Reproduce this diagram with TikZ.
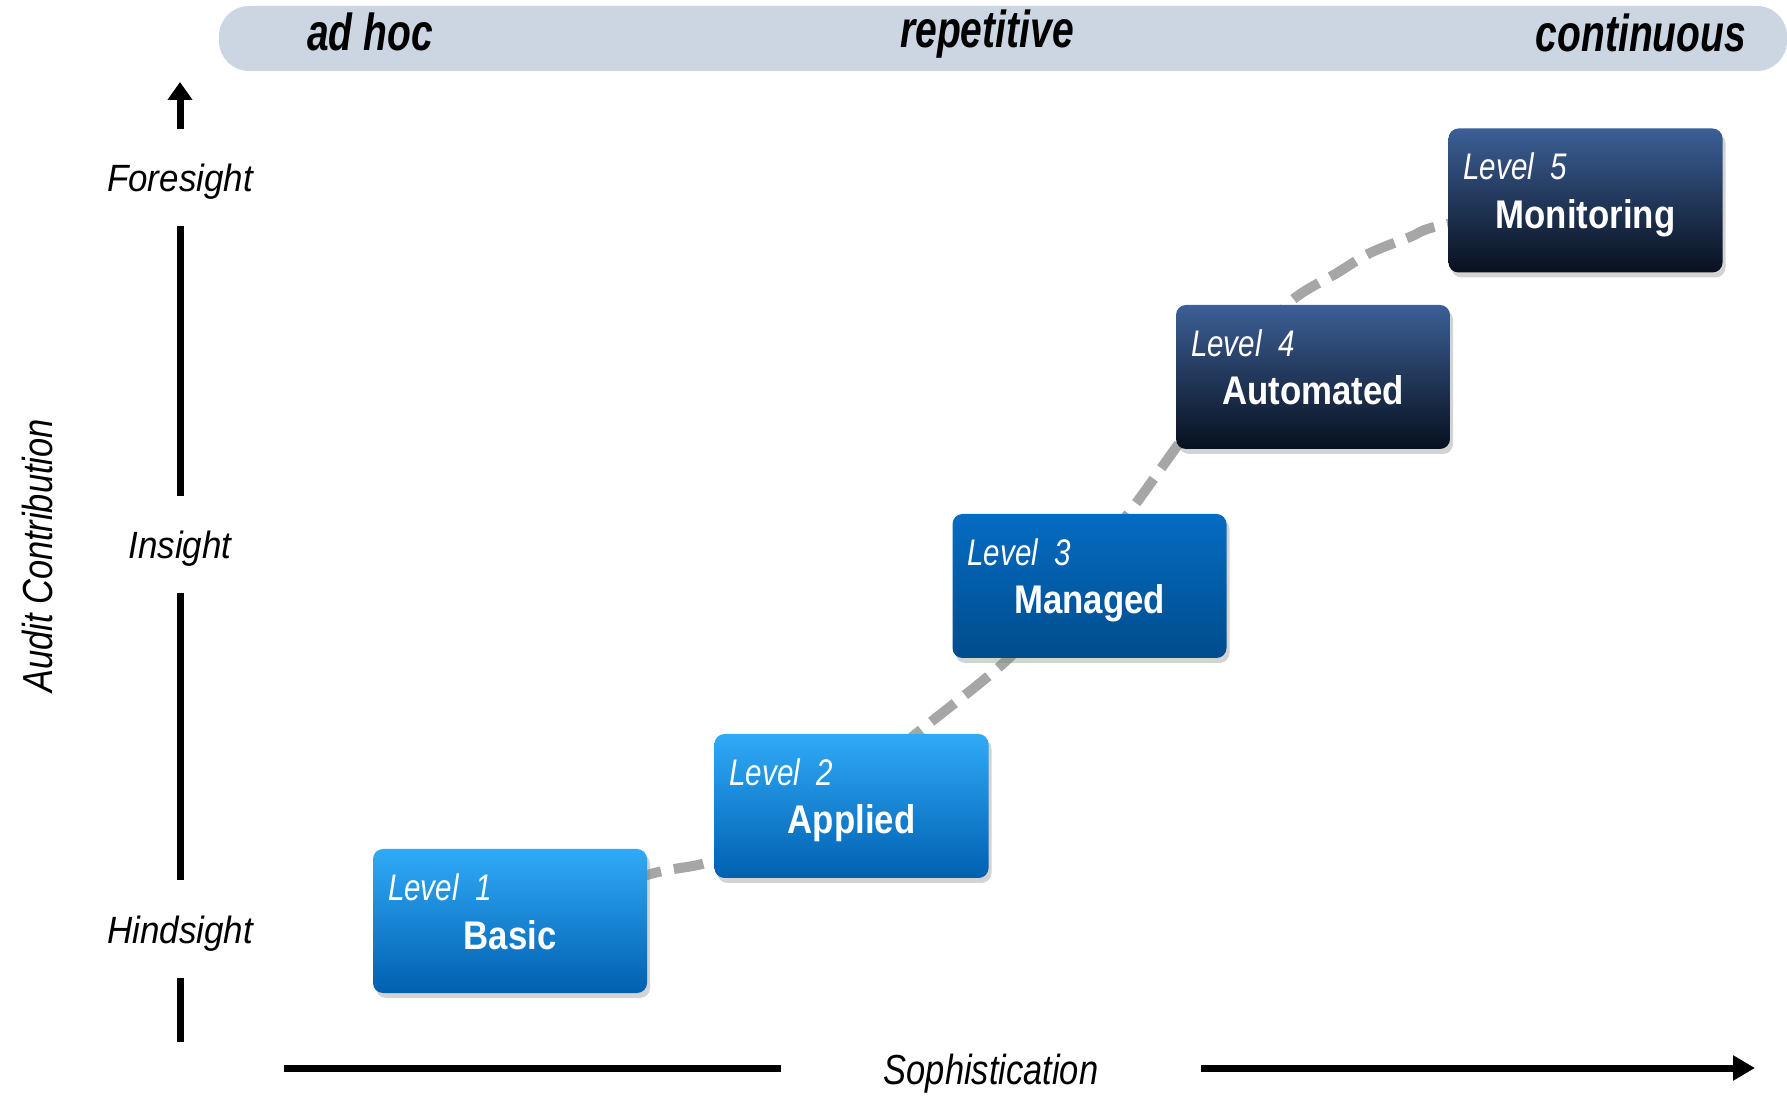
\documentclass[tikz,border=0pt]{standalone}
\usepackage{fontspec}
\setmainfont{Liberation Sans}
\newfontfamily\bannerfont[FakeStretch=0.75]{Liberation Sans}
\newfontfamily\lvlfont[FakeStretch=0.8]{Liberation Sans}
\newfontfamily\titlefont[FakeStretch=0.87]{Liberation Sans}
\newfontfamily\axisfont[FakeStretch=0.82]{Liberation Sans}
\newfontfamily\ylabfont[FakeStretch=0.92]{Liberation Sans}
\usetikzlibrary{shadows,arrows.meta,calc,backgrounds}
\definecolor{bannerc}{RGB}{204,214,226}
\definecolor{linkgray}{RGB}{166,166,166}
\definecolor{lbTop}{RGB}{48,170,247}
\definecolor{lbBot}{RGB}{0,96,176}
\definecolor{mbTop}{RGB}{5,108,195}
\definecolor{mbBot}{RGB}{0,76,140}
\definecolor{dbTop}{RGB}{60,95,150}
\definecolor{dbBot}{RGB}{8,16,30}
\tikzset{
  box/.style={rounded corners=10pt, minimum width=274pt, minimum height=144pt, inner sep=0pt,
    drop shadow={shadow xshift=3pt, shadow yshift=-5pt, opacity=0.35}},
  lightbox/.style={box, top color=lbTop, bottom color=lbBot},
  midbox/.style={box, top color=mbTop, bottom color=mbBot},
  darkbox/.style={box, top color=dbTop, bottom color=dbBot},
  lvl/.style={anchor=base west, inner sep=0pt, text=white, font=\lvlfont\itshape\fontsize{37}{40}\selectfont},
  ttl/.style={anchor=base, inner sep=0pt, text=white, font=\titlefont\bfseries\fontsize{40}{44}\selectfont},
  link/.style={draw=linkgray, line width=10pt, dash pattern=on 30pt off 13pt},
  axisline/.style={line width=7pt, draw=black},
  ylab/.style={inner sep=0pt, minimum height=97pt, text height=32pt, text depth=4pt,
    font=\ylabfont\itshape\fontsize{38}{42}\selectfont},
  bantext/.style={anchor=base, inner sep=0pt, font=\bannerfont\bfseries\itshape\fontsize{52}{56}\selectfont},
}
\begin{document}
\begin{tikzpicture}[x=1pt,y=1pt]
\useasboundingbox (0,0) rectangle (1787,1103);
% banner
\node[fill=bannerc, rounded corners=30pt, minimum width=1568pt, minimum height=65pt, inner sep=0pt] (band) at (1003,1064.5) {};
\node[bantext] (adhoc) at (370,1052) {ad hoc};
\node[bantext] (rep) at (987,1055) {repetitive};
\node[bantext] (cont) at (1641,1051) {continuous};
% boxes
\node[lightbox] (l1) at (510,182) {};
\node[lightbox] (l2) at (851.5,297) {};
\node[midbox] (l3) at (1089.5,517) {};
\node[darkbox] (l4) at (1313,726) {};
\node[darkbox] (l5) at (1585.5,902.5) {};
\foreach \n/\t in {1/Basic,2/Applied,3/Managed,4/Automated,5/Monitoring}{
  \node[lvl] (l\n a) at ($(l\n.west)+(15,20.5)$) {Level\ \ \n};
  \node[ttl] (l\n b) at ($(l\n.center)+(0,-28)$) {\t};
}
% dashed progression curve
\begin{pgfonlayer}{background}
\draw[link] plot[smooth, tension=0.5] coordinates {(l1.center) (647,228) (715,243) (820,292) (917,370) (1009,445) (1068,515) (1128,589) (1180,661) (1238,740) (1290,801) (1337,830) (1370,850) (1410,866) (1443,878) (l5.center)};
\end{pgfonlayer}
% vertical axis
\coordinate (vb) at (180,61);
\coordinate (vt) at (180,1021);
\node[ylab] (hind) at (180,174) {Hindsight};
\node[ylab] (ins) at (180,558.5) {Insight};
\node[ylab] (fore) at (180,925.5) {Foresight};
\draw[axisline] (vb) -- (hind.south);
\draw[axisline] (hind.north) -- (ins.south);
\draw[axisline] (ins.north) -- (fore.south);
\draw[axisline, -{Triangle[width=24pt,length=18pt]}] (fore.north) -- (vt);
\node[rotate=90, inner sep=0pt, font=\axisfont\itshape\fontsize{42}{46}\selectfont] (audit) at (37,547) {Audit Contribution};
% horizontal axis
\coordinate (ha) at (284,35);
\coordinate (hb) at (1755,35);
\node[anchor=base, inner ysep=0pt, inner xsep=103pt, font=\axisfont\itshape\fontsize{42}{46}\selectfont] (soph) at (991,19) {Sophistication};
\draw[axisline] (ha) -- (ha -| soph.west);
\draw[axisline, -{Triangle[width=24pt,length=22pt]}] (hb -| soph.east) -- (hb);
\end{tikzpicture}
\end{document}
